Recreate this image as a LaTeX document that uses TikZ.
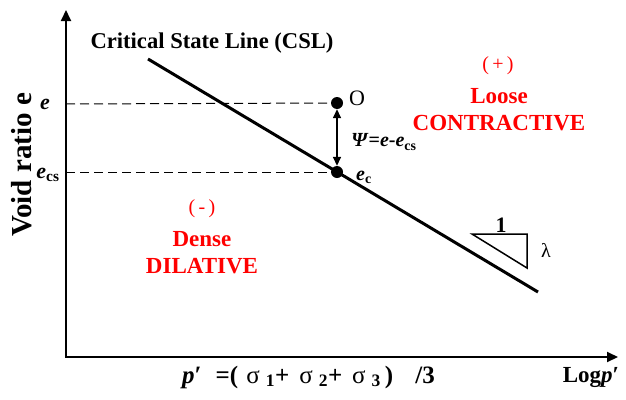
\documentclass[tikz,border=0pt]{standalone}
\usepackage{fontspec}
\setmainfont{Liberation Serif}
\usetikzlibrary{arrows.meta}
\begin{document}
\begin{tikzpicture}[x=1pt,y=-1pt,
  lab/.style={inner sep=0pt, font=\fontsize{22}{24}\selectfont\bfseries},
  redlab/.style={inner sep=0pt, text=red, font=\fontsize{23}{25}\selectfont\bfseries},
  axisline/.style={line width=2pt, {Triangle[length=11pt,width=10pt]}-{Triangle[length=11pt,width=10pt]}},
  dot/.style={circle, fill=black, inner sep=0pt, minimum size=12pt},
  dashline/.style={line width=1pt, dash pattern=on 9pt off 5pt},
]
\useasboundingbox (0,0) rectangle (626,399);
% axes
\coordinate (ytop) at (66,10);
\coordinate (origin) at (66,357);
\coordinate (xend) at (618,357);
\draw[axisline] (ytop) -- (origin) -- (xend);
% CSL
\coordinate (c1) at (148,59);
\coordinate (c2) at (538,292);
\draw[line width=3pt] (c1) -- (c2);
% points
\node[dot] (O) at (337,103) {};
\node[dot] (ec) at (337,172) {};
\coordinate (ye) at (66,104);
\coordinate (yecs) at (66,172);
\draw[dashline] (ye) -- (O);
\draw[dashline] (yecs) -- (ec);
\draw[line width=1.5pt, {Triangle[length=9pt,width=8pt]}-{Triangle[length=9pt,width=8pt]}] (O) -- (ec);
% slope triangle
\coordinate (t1) at (472,234);
\coordinate (t2) at (527,234);
\coordinate (t3) at (527,268);
\draw[line width=1.5pt] (t1) -- (t2) -- (t3) -- cycle;
\node[lab] (one) at (501,225) {1};
\node[inner sep=0pt, font=\fontsize{20}{22}\selectfont] (lam) at (546,250) {λ};
% labels
\node[lab, font=\fontsize{22.6}{24}\selectfont\bfseries] (csl) at (212,43) {Critical State Line (CSL)};
\node[inner sep=0pt, font=\fontsize{29}{30}\selectfont\bfseries, rotate=90] (yl) at (22,165) {Void ratio e};
\node[inner sep=0pt, font=\fontsize{22}{24}\selectfont\bfseries\itshape] (el) at (45,104) {e};
\node[inner sep=0pt, font=\fontsize{22}{24}\selectfont\bfseries] (ecsl) at (48,175) {\textit{e}\textsubscript{cs}};
\node[inner sep=0pt, font=\fontsize{22}{24}\selectfont] (Ol) at (357,98) {O};
\node[inner sep=0pt, font=\fontsize{20}{22}\selectfont\bfseries] (psi) at (384,142) {\textit{Ψ}=\textit{e}-\textit{e}\textsubscript{cs}};
\node[inner sep=0pt, font=\fontsize{20}{22}\selectfont\bfseries] (ecl) at (364,177) {\textit{e}\textsubscript{c}};
% regions
\node[redlab, font=\fontsize{20}{22}\selectfont] (plus) at (498,66) {(\,+\,)};
\node[redlab] (loose) at (499,96) {Loose};
\node[redlab] (contr) at (499,123) {CONTRACTIVE};
\node[redlab, font=\fontsize{20}{22}\selectfont] (minus) at (202,209) {(\,-\,)};
\node[redlab] (dense) at (202,239) {Dense};
\node[redlab] (dil) at (202,266) {DILATIVE};
% axis labels
\node[inner sep=0pt, anchor=west, font=\fontsize{25}{27}\selectfont] (pform) at (182,377) {\textbf{\textit{p}′}\hspace{14pt}\textbf{=(}\hspace{8pt}σ\hspace{6pt}\textsubscript{\textbf{1}}\textbf{+}\hspace{10pt}σ\hspace{6pt}\textsubscript{\textbf{2}}\textbf{+}\hspace{10pt}σ\hspace{6pt}\textsubscript{\textbf{3}}\hspace{4pt}\textbf{)}\hspace{22pt}\textbf{/3}};
\node[inner sep=0pt, font=\fontsize{23}{25}\selectfont\bfseries] (logp) at (591,378) {Log\textit{p}′};
\end{tikzpicture}
\end{document}
